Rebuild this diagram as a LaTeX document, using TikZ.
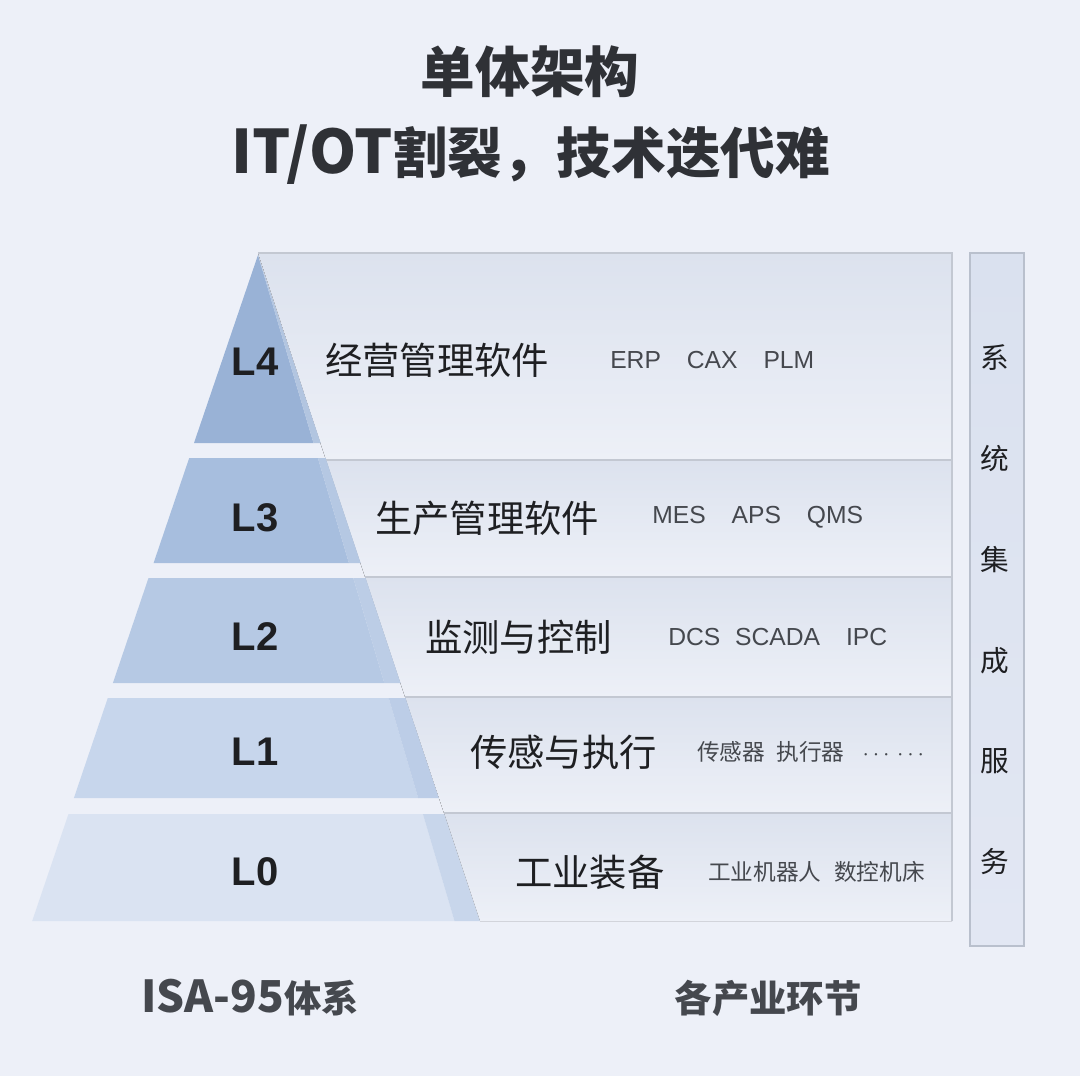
\documentclass[tikz,border=0pt]{standalone}
\usepackage{fontspec}
\setmainfont{Liberation Sans}
\newfontfamily\cjk{Noto Sans CJK SC}
\definecolor{bgcol}{HTML}{EDF0F8}
\definecolor{bandtop}{HTML}{DCE2EE}
\definecolor{bandbot}{HTML}{EDF0F7}
\definecolor{bandedge}{HTML}{C3C8D2}
\definecolor{txtdark}{HTML}{1E1F22}
\definecolor{txtgray}{HTML}{45484E}
\definecolor{txttitle}{HTML}{2F3136}
\tikzset{
  bandbox/.style={top color=bandtop, bottom color=bandbot},
  bandline/.style={draw=bandedge, line width=1.2},
  lvlmark/.style={font=\bfseries\fontsize{30}{32}\selectfont, text=txtdark, inner sep=0},
  layername/.style={font=\cjk\fontsize{28}{30}\selectfont, text=txtdark, anchor=west, inner sep=0},
  layeritems/.style={font=\fontsize{18.5}{20}\selectfont, text=txtgray, anchor=west, inner sep=0},
  layeritemscjk/.style={font=\cjk\fontsize{17}{19}\selectfont, text=txtgray, anchor=west, inner sep=0},
  sidechar/.style={font=\cjk\fontsize{21.5}{23}\selectfont, text=txtdark, inner sep=0},
  footlabel/.style={font=\cjk\bfseries\fontsize{28}{30}\selectfont, text=txtgray, inner sep=0}
}
\begin{document}
\begin{tikzpicture}[x=0.75pt,y=0.75pt,yscale=-1,xscale=1]
        % background
        \fill [bgcol] (0,0) rectangle (1080,1076) ;
        \useasboundingbox (0,0) rectangle (1080,1076) ;
        % titles
        \node [font=\cjk\bfseries\fontsize{41}{44}\selectfont, text=txttitle, inner sep=0] (title1) at (530,72) {单体架构};
        \node [font=\cjk\bfseries\fontsize{41}{44}\selectfont, text=txttitle, inner sep=0] (title2) at (531,155) {{\fontsize{45}{44}\selectfont IT/OT}割裂，技术迭代难};
        % bands behind the pyramid
        \fill [bandbox] (258,253) -- (952,253) -- (952,460) -- (326,460) -- cycle ;
        \fill [bandbox] (326,460) -- (952,460) -- (952,577) -- (365,577) -- cycle ;
        \fill [bandbox] (365,577) -- (952,577) -- (952,697) -- (405,697) -- cycle ;
        \fill [bandbox] (405,697) -- (952,697) -- (952,813) -- (444,813) -- cycle ;
        \fill [bandbox] (444,813) -- (952,813) -- (952,921) -- (480,921) -- cycle ;
        \draw [bandline] (258,253) -- (952,253) -- (952,921) ;
        \draw [bandline] (326,460) -- (952,460) ;
        \draw [bandline] (365,577) -- (952,577) ;
        \draw [bandline] (405,697) -- (952,697) ;
        \draw [bandline] (444,813) -- (952,813) ;
        % pyramid: main faces
        \fill [color={rgb, 255:red, 153; green, 178; blue, 214 }] (258,255) -- (313.5,443) -- (194,443) -- cycle ;
        \fill [color={rgb, 255:red, 167; green, 190; blue, 222 }] (189.2,458) -- (317.9,458) -- (348.9,563) -- (153.6,563) -- cycle ;
        \fill [color={rgb, 255:red, 182; green, 201; blue, 228 }] (148.5,578) -- (353.3,578) -- (384.3,683) -- (112.9,683) -- cycle ;
        \fill [color={rgb, 255:red, 199; green, 214; blue, 236 }] (107.8,698) -- (388.7,698) -- (418.2,798) -- (73.9,798) -- cycle ;
        \fill [color={rgb, 255:red, 218; green, 227; blue, 242 }] (68.5,814) -- (422.9,814) -- (454.5,921) -- (32.2,921) -- cycle ;
        % pyramid: side faces
        \fill [color={rgb, 255:red, 178; green, 197; blue, 224 }] (258,255) -- (320.6,443) -- (313.5,443) -- cycle ;
        \fill [color={rgb, 255:red, 181; green, 200; blue, 227 }] (317.9,458) -- (325.6,458) -- (360.6,563) -- (348.9,563) -- cycle ;
        \fill [color={rgb, 255:red, 188; green, 205; blue, 230 }] (353.3,578) -- (365.6,578) -- (400.5,683) -- (384.3,683) -- cycle ;
        \fill [color={rgb, 255:red, 188; green, 205; blue, 231 }] (388.7,698) -- (405.5,698) -- (438.8,798) -- (418.2,798) -- cycle ;
        \fill [color={rgb, 255:red, 200; green, 214; blue, 235 }] (422.9,814) -- (444.1,814) -- (479.8,921) -- (454.5,921) -- cycle ;
        % level marks
        \node [lvlmark] (lv4) at (255,362) {L4};
        \node [lvlmark] (lv3) at (255,518) {L3};
        \node [lvlmark] (lv2) at (255,637) {L2};
        \node [lvlmark] (lv1) at (255,752) {L1};
        \node [lvlmark] (lv0) at (255,872) {L0};
        % layer names and examples
        \node [layername] (name4) at (325,360) {经营管理软件};
        \node [layeritems] (item4) at (610,360) {ERP\hspace{1.05em}CAX\hspace{1.05em}PLM};
        \node [layername] (name3) at (375,518) {生产管理软件};
        \node [layeritems] (item3) at (652,517) {MES\hspace{1.05em}APS\hspace{1.05em}QMS};
        \node [layername] (name2) at (425,637) {监测与控制};
        \node [layeritems] (item2) at (668,637) {DCS\hspace{0.6em}SCADA\hspace{1.05em}IPC};
        \node [layername] (name1) at (470,752) {传感与执行};
        \node [layeritemscjk] (item1) at (697,752) {传感器\hspace{0.5em}执行器\hspace{0.8em}$\cdots\,\cdots$};
        \node [layername] (name0) at (515,872) {工业装备};
        \node [layeritemscjk] (item0) at (708,872) {工业机器人\hspace{0.55em}数控机床};
        % system integration column
        \draw [draw={rgb, 255:red, 185; green, 192; blue, 205 }, line width=1.2, top color={rgb, 255:red, 218; green, 225; blue, 239 }, bottom color={rgb, 255:red, 226; green, 231; blue, 243 }] (970,253) rectangle (1024,946) ;
        \foreach \ch [count=\i] in {系,统,集,成,服,务}
          \node [sidechar] (sys\i) at (995,{358+(\i-1)*100.8}) {\ch};
        % footers
        \node [footlabel] (isa) at (250,998) {{\fontsize{33}{30}\selectfont ISA-95}体系};
        \node [footlabel] (chain) at (768,998) {各产业环节};
\end{tikzpicture}
\end{document}
